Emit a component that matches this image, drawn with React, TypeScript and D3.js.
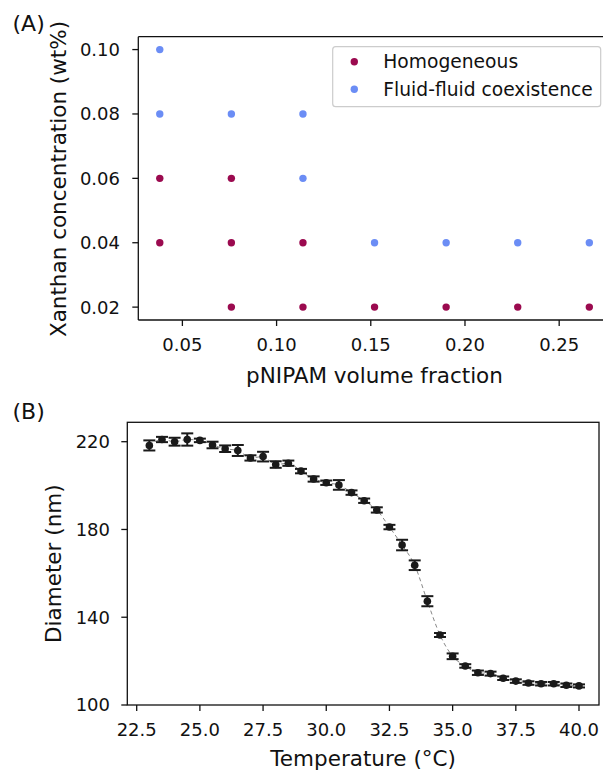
import React from "react";
import * as d3 from "d3";

// Panel A data
const homogeneousX = [0.038, 0.038, 0.076, 0.076, 0.076, 0.114, 0.114, 0.152, 0.19, 0.228, 0.266];
const homogeneousY = [0.06, 0.04, 0.06, 0.04, 0.02, 0.04, 0.02, 0.02, 0.02, 0.02, 0.02];
const fluidX = [0.038, 0.038, 0.076, 0.114, 0.114, 0.152, 0.19, 0.228, 0.266];
const fluidY = [0.1, 0.08, 0.08, 0.08, 0.06, 0.04, 0.04, 0.04, 0.04];
const ticksAX = [0.05, 0.1, 0.15, 0.2, 0.25];
const ticksAY = [0.02, 0.04, 0.06, 0.08, 0.1];

// Panel B data
const temperature = [23, 23.5, 24, 24.5, 25, 25.5, 26, 26.5, 27, 27.5, 28, 28.5, 29, 29.5, 30, 30.5, 31, 31.5, 32, 32.5, 33, 33.5, 34, 34.5, 35, 35.5, 36, 36.5, 37, 37.5, 38, 38.5, 39, 39.5, 40];
const diameter = [218.3, 221.0, 220.0, 221.0, 220.6, 218.5, 216.8, 216.0, 212.6, 213.2, 209.6, 210.2, 206.6, 203.0, 201.3, 200.3, 196.8, 193.1, 188.9, 181.1, 172.9, 163.7, 147.3, 131.9, 122.2, 117.8, 114.7, 114.3, 112.2, 110.9, 110.0, 109.7, 109.7, 109.0, 108.7];
const diameterErr = [2.3, 1.2, 1.8, 2.8, 0.8, 1.5, 1.5, 2.5, 1.2, 2.2, 1.5, 1.2, 1.0, 1.2, 1.0, 2.2, 1.0, 1.0, 1.2, 1.0, 2.4, 2.2, 2.3, 0.9, 1.3, 0.8, 1.0, 0.9, 0.8, 0.8, 0.8, 0.8, 0.8, 0.8, 0.7];
const ticksBX = [22.5, 25, 27.5, 30, 32.5, 35, 37.5, 40];
const ticksBY = [100, 140, 180, 220];

const FONT = "DejaVu Sans, Verdana, sans-serif";
const FS = 18;
const LFS = 21.5;
const HOMO = "#9b0a4f";
const FLUID = "#6b8df5";

export default function App() {
  // Panel A geometry
  const aL = 138.3, aT = 36.7, aB = 320, aR = 610.8;
  const xA = d3.scaleLinear().domain([0.0266, 0.2774]).range([aL, aR]);
  const yA = d3.scaleLinear().domain([0.016, 0.104]).range([aB, aT]);

  // Panel B geometry
  const bL = 127.3, bT = 422.3, bB = 705, bR = 599;
  const xB = d3.scaleLinear().domain([22.5, 40]).range([136.7, 579]);
  const yB = d3.scaleLinear().domain([100, 220]).range([bB, 441.7]);

  const line = d3
    .line<number>()
    .x((_, i) => xB(temperature[i]))
    .y((d) => yB(d))
    .curve(d3.curveMonotoneX);

  const tickW = 1.3;
  const tickLen = 6;

  return (
    <div style={{ position: "absolute", left: 0, top: 0 }}>
      <svg width={603} height={771} style={{ display: "block", fontFamily: FONT }}>
        <rect x={0} y={0} width={603} height={771} fill="#fff" />
        {/* Panel A */}
        <text x={12.5} y={31} fontSize={22} fill="#111">(A)</text>
        <line x1={aL} x2={aL} y1={aT} y2={aB} stroke="#111" strokeWidth={1.3} />
        <line x1={aL} x2={aR} y1={aB} y2={aB} stroke="#111" strokeWidth={1.3} />
        <line x1={aL} x2={aR} y1={aT} y2={aT} stroke="#111" strokeWidth={1.3} />
        <line x1={aR} x2={aR} y1={aT} y2={aB} stroke="#111" strokeWidth={1.3} />
        {ticksAX.map((t) => (
          <g key={"ax" + t}>
            <line x1={xA(t)} x2={xA(t)} y1={aB} y2={aB + tickLen} stroke="#111" strokeWidth={tickW} />
            <text x={xA(t)} y={351} textAnchor="middle" fontSize={FS} fill="#111">
              {d3.format(".2f")(t)}
            </text>
          </g>
        ))}
        {ticksAY.map((t) => (
          <g key={"ay" + t}>
            <line x1={aL - tickLen} x2={aL} y1={yA(t)} y2={yA(t)} stroke="#111" strokeWidth={tickW} />
            <text x={120} y={yA(t)} dy="0.36em" textAnchor="end" fontSize={FS} fill="#111">
              {d3.format(".2f")(t)}
            </text>
          </g>
        ))}
        {homogeneousX.map((x, i) => (
          <circle key={"h" + i} cx={xA(x)} cy={yA(homogeneousY[i])} r={3.7} fill={HOMO} />
        ))}
        {fluidX.map((x, i) => (
          <circle key={"f" + i} cx={xA(x)} cy={yA(fluidY[i])} r={3.7} fill={FLUID} />
        ))}
        <text x={374.5} y={383} textAnchor="middle" fontSize={LFS} fill="#111">
          pNIPAM volume fraction
        </text>
        <text
          transform={`translate(66,179) rotate(-90)`}
          textAnchor="middle"
          fontSize={LFS}
          fill="#111"
        >
          Xanthan concentration (wt%)
        </text>
        {/* Legend */}
        <rect x={332.7} y={46.7} width={268} height={60} rx={3} fill="#fff" fillOpacity={0.8} stroke="#cccccc" strokeWidth={1.2} />
        <circle cx={354.3} cy={61.7} r={3.7} fill={HOMO} />
        <circle cx={354.3} cy={89.3} r={3.7} fill={FLUID} />
        <text x={383.3} y={61.7} dy="0.36em" fontSize={18.7} fill="#111">Homogeneous</text>
        <text x={383.3} y={89.3} dy="0.36em" fontSize={18.7} fill="#111">Fluid-fluid coexistence</text>

        {/* Panel B */}
        <text x={12.5} y={419} fontSize={22} fill="#111">(B)</text>
        <rect x={bL} y={bT} width={bR - bL} height={bB - bT} fill="none" stroke="#111" strokeWidth={1.3} />
        {ticksBX.map((t) => (
          <g key={"bx" + t}>
            <line x1={xB(t)} x2={xB(t)} y1={bB} y2={bB + tickLen} stroke="#111" strokeWidth={tickW} />
            <text x={xB(t)} y={736} textAnchor="middle" fontSize={FS} fill="#111">
              {d3.format(".1f")(t)}
            </text>
          </g>
        ))}
        {ticksBY.map((t) => (
          <g key={"by" + t}>
            <line x1={bL - tickLen} x2={bL} y1={yB(t)} y2={yB(t)} stroke="#111" strokeWidth={tickW} />
            <text x={110} y={yB(t)} dy="0.36em" textAnchor="end" fontSize={FS} fill="#111">
              {t}
            </text>
          </g>
        ))}
        <path d={line(diameter) || ""} fill="none" stroke="#888" strokeWidth={1} strokeDasharray="4,3" />
        {temperature.map((t, i) => {
          const cx = xB(t);
          const y1 = yB(diameter[i] - diameterErr[i]);
          const y2 = yB(diameter[i] + diameterErr[i]);
          return (
            <g key={"p" + i} stroke="#1a1a1a" strokeWidth={2}>
              <line x1={cx} x2={cx} y1={y1} y2={y2} />
              <line x1={cx - 6} x2={cx + 6} y1={y1} y2={y1} />
              <line x1={cx - 6} x2={cx + 6} y1={y2} y2={y2} />
              <circle cx={cx} cy={yB(diameter[i])} r={3.8} fill="#1a1a1a" stroke="none" />
            </g>
          );
        })}
        <text x={(bL + bR) / 2} y={766} textAnchor="middle" fontSize={LFS} fill="#111">
          Temperature (°C)
        </text>
        <text
          transform={`translate(61,${(bT + bB) / 2}) rotate(-90)`}
          textAnchor="middle"
          fontSize={LFS}
          fill="#111"
        >
          Diameter (nm)
        </text>
      </svg>
    </div>
  );
}
